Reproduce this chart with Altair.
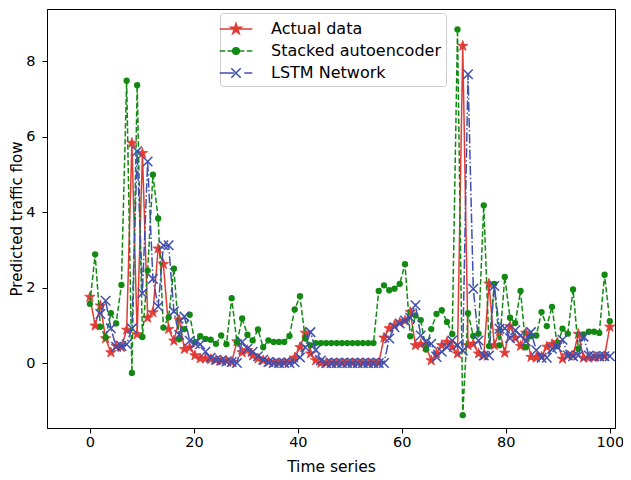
import math
import altair as alt
import pandas as pd

series_names = ["Actual data", "Stacked autoencoder", "LSTM Network"]
colors = ["#e23b35", "#128a12", "#3f4fae"]

# regular time index 0..100 (100 samples)
time = [i * 100 / 99 for i in range(100)]
lstm_start = 2

actual = [1.75, 0.99, 1.52, 0.65, 0.28, 0.45, 0.42, 0.88, 5.83, 0.76,
          5.56, 1.2, 1.34, 3.03, 2.62, 0.9, 0.59, 1.15, 0.37, 0.41,
          0.2, 0.12, 0.12, 0.1, 0.08, 0.06, 0.06, 0.03, 0.57, 0.28,
          0.34, 0.2, 0.12, 0.07, 0.03, 0.01, 0.0, 0.01, 0.03, 0.14,
          0.42, 0.8, 0.25, 0.07, 0.0, 0.0, 0.0, 0.0, 0.0, 0.0,
          0.0, 0.0, 0.0, 0.0, 0.0, 0.0, 0.67, 0.92, 1.0, 1.07,
          1.12, 1.35, 0.47, 0.5, 0.45, 0.07, 0.25, 0.47, 0.56, 0.42,
          0.25, 8.4, 0.47, 0.51, 0.25, 0.2, 2.1, 0.47, 0.85, 0.27,
          0.97, 0.67, 0.45, 0.8, 0.16, 0.14, 0.17, 0.43, 0.5, 0.55,
          0.11, 0.2, 0.2, 0.77, 0.14, 0.14, 0.15, 0.17, 0.18, 0.96]

stacked = [1.57, 2.88, 0.96, 0.68, 1.32, 1.05, 2.07, 7.48, -0.26, 7.36,
           0.69, 2.45, 4.99, 3.83, 0.94, 1.21, 2.5, 0.63, 0.9, 1.28,
           0.55, 0.71, 0.64, 0.62, 0.51, 0.73, 0.5, 1.72, 0.55, 1.18,
           0.75, 0.6, 0.89, 0.42, 0.6, 0.56, 0.56, 0.56, 0.72, 1.42,
           1.77, 0.65, 0.47, 0.53, 0.53, 0.53, 0.53, 0.53, 0.53, 0.53,
           0.53, 0.53, 0.53, 0.53, 0.53, 1.91, 2.06, 1.93, 1.97, 2.1,
           2.62, 0.71, 1.26, 1.14, 0.36, 0.9, 1.3, 1.4, 1.09, 0.77,
           8.84, -1.38, 1.32, 0.72, 0.78, 4.18, 0.45, 2.1, 0.47, 2.28,
           1.2, 1.06, 1.91, 0.42, 0.72, 0.73, 1.35, 0.98, 1.49, 0.45,
           0.91, 0.78, 1.95, 0.38, 0.76, 0.83, 0.83, 0.8, 2.34, 1.11]

lstm = [1.30, 1.65, 0.92, 0.43, 0.45, 0.5, 0.92, 5.61,
        1.85, 5.34, 2.23, 1.5, 3.12, 3.12, 1.37, 0.75, 1.23, 0.59,
        0.52, 0.5, 0.3, 0.14, 0.09, 0.07, 0.04, 0.03, 0.0, 0.56,
        0.38, 0.3, 0.18, 0.09, 0.03, 0.0, 0.0, 0.0, 0.0, 0.02,
        0.15, 0.42, 0.82, 0.35, 0.07, 0.0, 0.0, 0.0, 0.0, 0.0,
        0.0, 0.0, 0.0, 0.0, 0.0, 0.0, 0.0, 0.65, 0.95, 1.05,
        1.13, 1.2, 1.53, 0.73, 0.56, 0.51, 0.16, 0.3, 0.42, 0.6,
        0.47, 0.33, 7.65, 1.97, 0.6, 0.2, 0.2, 2.04, 0.91, 0.92,
        0.66, 0.87, 0.73, 0.58, 0.82, 0.34, 0.14, 0.14, 0.38, 0.42,
        0.62, 0.2, 0.18, 0.2, 0.7, 0.2, 0.18, 0.18, 0.18, 0.18]

rows = []
for t, v in zip(time, actual):
    rows.append({"t": t, "v": v, "s": series_names[0]})
for t, v in zip(time, stacked):
    rows.append({"t": t, "v": v, "s": series_names[1]})
for t, v in zip(time[lstm_start:], lstm):
    rows.append({"t": t, "v": v, "s": series_names[2]})
df = pd.DataFrame(rows)


def star_path(r_out):
    pts = []
    for k in range(10):
        ang = -math.pi / 2 + k * math.pi / 5
        r = r_out if k % 2 == 0 else r_out * 0.381966
        pts.append((r * math.cos(ang), r * math.sin(ang)))
    return "M" + "L".join(f"{x:.3f},{y:.3f}" for x, y in pts) + "Z"


def circle_path(r):
    return f"M{r},0A{r},{r} 0 1,1 {-r},0A{r},{r} 0 1,1 {r},0Z"


STAR = star_path(1)
XMARK = "M-1,-1L1,1M-1,1L1,-1"

legend_paths = [
    "M-1.63,0H1.63" + star_path(0.55),
    "M-1.63,0H-1.08M-0.84,0H-0.29M0.29,0H0.84M1.08,0H1.63" + circle_path(0.33),
    "M-1.63,0H-0.2M0.83,0H1.63M-0.47,-0.47L0.47,0.47M-0.47,0.47L0.47,-0.47",
]

xscale = alt.Scale(domain=[-8.25, 101.0], nice=False, zero=False)
yscale = alt.Scale(domain=[-1.72, 9.38], nice=False, zero=False)
X = alt.X("t:Q", scale=xscale,
          axis=alt.Axis(values=[0, 20, 40, 60, 80, 100], title="Time series", format="d",
                        labelFlush=False, labelPadding=2, titlePadding=11))
Y = alt.Y("v:Q", scale=yscale,
          axis=alt.Axis(values=[0, 2, 4, 6, 8], title="Predicted traffic flow", format="d",
                        labelPadding=7, titlePadding=1, titleFontSize=15))

dashes = [[1, 0], [5.55, 2.4], [9.6, 2.4, 1.5, 2.4]]
base = alt.Chart(df)
layers = []
for k, name in enumerate(series_names):
    sub = base.transform_filter(alt.datum.s == name)
    line = sub.mark_line(color=colors[k], strokeWidth=1.5, strokeDash=dashes[k]).encode(x=X, y=Y)
    if k == 0:
        pts = sub.mark_point(shape=STAR, filled=True, fill=colors[k], stroke=colors[k],
                             strokeWidth=0.8, size=121, opacity=1).encode(x=X, y=Y)
    elif k == 1:
        pts = sub.mark_point(shape="circle", filled=True, color=colors[k], size=40,
                             opacity=1).encode(x=X, y=Y)
    else:
        pts = sub.mark_point(shape=XMARK, filled=False, stroke=colors[k], strokeWidth=1.5,
                             size=90, opacity=1).encode(x=X, y=Y)
    layers += [line, pts]

leg = alt.Legend(title=None, orient="none", legendX=173, legendY=4)
legend_layer = base.transform_filter("false").mark_point(filled=True, opacity=1, strokeWidth=1.5).encode(
    x=X, y=Y,
    shape=alt.Shape("s:N", scale=alt.Scale(domain=series_names, range=legend_paths), legend=leg),
    fill=alt.Fill("s:N", scale=alt.Scale(domain=series_names, range=colors), legend=leg),
    stroke=alt.Stroke("s:N", scale=alt.Scale(domain=series_names, range=colors), legend=leg),
)

chart = alt.layer(*layers, legend_layer).properties(
    width=568, height=419,
    padding={"left": 39, "top": 1, "right": 8, "bottom": 50},
    autosize=alt.AutoSizeParams(type="none"),
).configure_view(stroke="black", strokeWidth=1).configure_axis(
    grid=False, domainColor="black", tickColor="black", tickSize=5, tickWidth=1,
    labelColor="black", titleColor="black", labelFont="DejaVu Sans", titleFont="DejaVu Sans",
    labelFontSize=14.5, titleFontSize=15.5, titleFontWeight="normal",
).configure_legend(
    fillColor="rgba(255,255,255,0.8)", strokeColor="#cccccc", cornerRadius=3,
    padding=5, rowPadding=3, labelFont="DejaVu Sans", labelFontSize=16, labelColor="black",
    symbolSize=400, symbolStrokeWidth=1.5, labelOffset=24, labelLimit=400,
)

chart.save("out.html", embed_options={"renderer": "svg", "actions": False})
